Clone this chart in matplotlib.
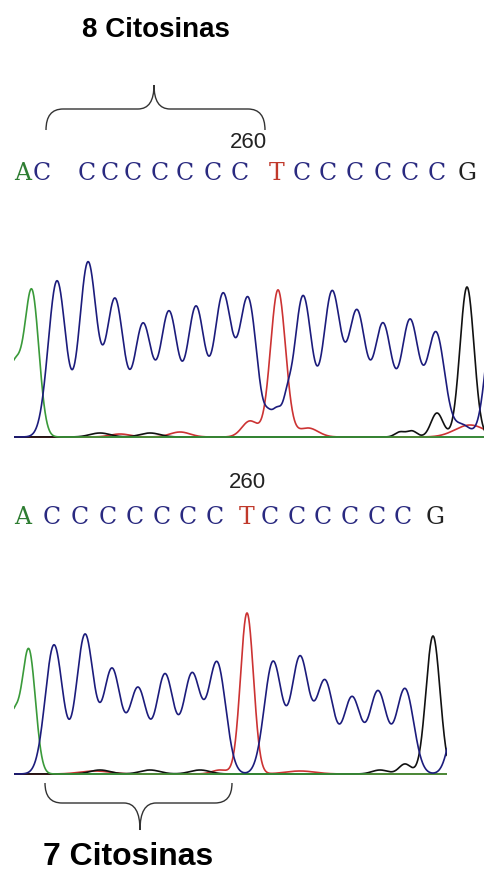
import numpy as np
import matplotlib.pyplot as plt
from matplotlib.path import Path
from matplotlib.patches import PathPatch

# chromatogram peaks: scan position, height (signal), width
# top run (8 C)
top_green_pos = [14, 32]
top_green_h = [72, 142]
top_green_w = [8, 7]
top_blue_pos = [57, 88, 115, 143, 169, 196, 223, 248, 268, 277, 287, 303, 332, 357, 383, 410, 436, 462, 494]
top_blue_h = [156, 174, 137, 112, 124, 129, 141, 138, 14, 26, 22, 141, 144, 124, 112, 116, 104, 12, 125]
top_blue_w = [8.7, 8.7, 8.7, 8.7, 8.7, 8.7, 8.7, 8.7, 4, 5, 4, 8.7, 8.7, 8.7, 8.7, 8.7, 8.7, 8, 8]
top_red_pos = [120, 180, 250, 278, 308, 470]
top_red_h = [3, 5, 16, 147, 9, 12]
top_red_w = [10, 10, 8, 7.5, 10, 15]
top_black_pos = [100, 150, 400, 412, 437, 467]
top_black_h = [4, 4, 5, 6, 24, 150]
top_black_w = [10, 10, 5, 5, 6, 7]

# bottom run (7 C)
bot_green_pos = [13, 29]
bot_green_h = [58, 121]
bot_green_w = [7, 6.5]
bot_blue_pos = [54, 85, 112, 138, 165, 192, 217, 273, 300, 325, 352, 378, 405, 458]
bot_blue_h = [129, 139, 104, 85, 99, 99, 111, 112, 116, 92, 76, 82, 85, 65]
bot_blue_w = [8.7] * 13 + [8]
bot_red_pos = [95, 220, 247, 300]
bot_red_h = [3, 4, 161, 3]
bot_red_w = [15, 8, 6.5, 15]
bot_black_pos = [100, 150, 200, 380, 405, 433]
bot_black_h = [4, 4, 4, 4, 10, 138]
bot_black_w = [10, 10, 10, 8, 6, 7]

# base calls
top_seq = "ACCCCCCCCTCCCCCCG"
top_seq_x = [23, 42, 87, 110, 133, 160, 185, 213, 240, 277, 302, 328, 355, 383, 410, 437, 467]
bot_seq = "ACCCCCCCTCCCCCCG"
bot_seq_x = [23, 52, 80, 108, 135, 162, 188, 215, 247, 270, 297, 323, 350, 377, 403, 435]

GREEN = '#3a9a3a'
BLUE = '#1c1c7c'
RED = '#cc3333'
BLACK = '#111111'
base_colors = {'A': '#2e7d32', 'C': '#2a2a80', 'T': '#c0392b', 'G': '#222222'}


def trace(x, pos, h, w):
    y = np.zeros_like(x)
    for p, a, s in zip(pos, h, w):
        y += a * np.exp(-0.5 * ((x - p) / s) ** 2)
    return y


def draw_run(ax, x0, x1, channels):
    x = np.linspace(x0, x1, 2000)
    ax.axhline(0, color='#333333', lw=1.3)
    for pos, h, w, c in channels:
        ax.plot(x, trace(x, pos, h, w), color=c, lw=1.2)
    ax.set_xlim(x0, x1)
    ax.set_ylim(-4, 180)
    ax.axis('off')


fig = plt.figure(figsize=(4.85, 8.8), dpi=100)

ax_top = fig.add_axes([14 / 485, (880 - 441) / 880, 471 / 485, 184 / 880])
draw_run(ax_top, 14, 485, [
    (top_red_pos, top_red_h, top_red_w, RED),
    (top_black_pos, top_black_h, top_black_w, BLACK),
    (top_green_pos, top_green_h, top_green_w, GREEN),
    (top_blue_pos, top_blue_h, top_blue_w, BLUE),
])

ax_bot = fig.add_axes([14 / 485, (880 - 778) / 880, 433 / 485, 184 / 880])
draw_run(ax_bot, 14, 447, [
    (bot_red_pos, bot_red_h, bot_red_w, RED),
    (bot_black_pos, bot_black_h, bot_black_w, BLACK),
    (bot_green_pos, bot_green_h, bot_green_w, GREEN),
    (bot_blue_pos, bot_blue_h, bot_blue_w, BLUE),
])

# overlay in pixel coordinates for labels and braces
ov = fig.add_axes([0, 0, 1, 1])
ov.set_xlim(0, 485)
ov.set_ylim(880, 0)
ov.axis('off')
ov.patch.set_alpha(0)

for s, xs, yb in [(top_seq, top_seq_x, 180), (bot_seq, bot_seq_x, 524)]:
    for ch, xx in zip(s, xs):
        ov.text(xx, yb, ch, color=base_colors[ch], fontsize=17, family='DejaVu Serif',
                ha='center', va='baseline')

ov.text(248, 148, '260', fontsize=16, family='Liberation Sans', color='#222222', ha='center', va='baseline')
ov.text(247, 488, '260', fontsize=16, family='Liberation Sans', color='#222222', ha='center', va='baseline')

ov.text(156, 37, '8 Citosinas', fontsize=20, fontweight='bold', family='Liberation Sans',
        ha='center', va='baseline')
ov.text(128, 865, '7 Citosinas', fontsize=23, fontweight='bold', family='Liberation Sans',
        ha='center', va='baseline')


def brace(xl, xr, xc, y_end, y_mid, y_tip):
    verts = [(xl, y_end), (xl, y_mid), (xl + 17, y_mid),
             (xc - 16, y_mid),
             (xc, y_mid), (xc, y_tip),
             (xc, y_mid), (xc + 16, y_mid),
             (xr - 17, y_mid),
             (xr, y_mid), (xr, y_end)]
    codes = [Path.MOVETO, Path.CURVE3, Path.CURVE3, Path.LINETO,
             Path.CURVE3, Path.CURVE3, Path.CURVE3, Path.CURVE3,
             Path.LINETO, Path.CURVE3, Path.CURVE3]
    ov.add_patch(PathPatch(Path(verts, codes), fill=False, ec='#333333', lw=1.0))


brace(46, 265, 154, 130, 109, 85)
brace(45, 232, 140, 783, 803, 830)

fig.savefig('out.png', dpi=100, facecolor='white')
